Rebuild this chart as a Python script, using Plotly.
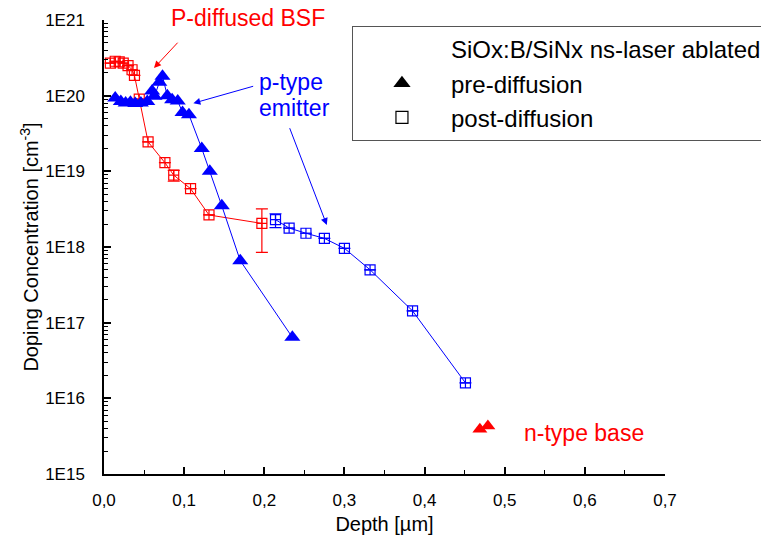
import plotly.graph_objects as go

# ---------------- data ----------------
# pre-diffusion (blue triangles, p-type emitter)
pre_depth = [0.014, 0.021, 0.027, 0.033, 0.039, 0.046, 0.054, 0.060, 0.063, 0.069, 0.073, 0.079,
             0.085, 0.092, 0.098, 0.106, 0.122, 0.132, 0.147, 0.170, 0.235]
pre_conc = [9.3e19, 8.4e19, 8.0e19, 8.2e19, 7.9e19, 8.0e19, 8.4e19, 1.15e20, 9.8e19, 1.5e20, 1.8e20, 1.0e20,
            8.8e19, 8.5e19, 6.0e19, 5.6e19, 2.0e19, 1.0e19, 3.5e18, 6.6e17, 6.4e16]

# n-type base (red triangles)
base_depth = [0.469, 0.479]
base_conc = [3.9e15, 4.3e15]

# post-diffusion, P-diffused BSF (red squares)
bsf_depth = [0.008, 0.014, 0.019, 0.024, 0.030, 0.035, 0.038, 0.044, 0.055, 0.076, 0.087, 0.108, 0.131, 0.197]
bsf_conc = [2.7e20, 2.85e20, 2.8e20, 2.7e20, 2.5e20, 2.2e20, 1.85e20, 9.0e19, 2.45e19, 1.3e19, 8.9e18,
            5.9e18, 2.65e18, 2.05e18]
bsf_err_plus = [0, 0, 0, 0, 0, 0, 0, 0, 0, 0, 1.4e18, 0, 0, 1.15e18]
bsf_err_minus = [0, 0, 0, 0, 0, 0, 0, 0, 0, 0, 1.5e18, 0, 0, 1.2e18]

# post-diffusion, p-type emitter (blue squares)
emi_depth = [0.214, 0.231, 0.252, 0.275, 0.300, 0.332, 0.385, 0.451]
emi_conc = [2.3e18, 1.78e18, 1.52e18, 1.30e18, 9.6e17, 5.0e17, 1.43e17, 1.6e16]
emi_err_plus = [0.45e18, 0, 0, 0, 0, 0, 0, 0]
emi_err_minus = [0.5e18, 0, 0, 0, 0, 0, 0, 0]

x_ticks = [0.0, 0.1, 0.2, 0.3, 0.4, 0.5, 0.6, 0.7]
x_ticklabels = ["0,0", "0,1", "0,2", "0,3", "0,4", "0,5", "0,6", "0,7"]
y_ticks = [1e15, 1e16, 1e17, 1e18, 1e19, 1e20, 1e21]
y_ticklabels = ["1E15", "1E16", "1E17", "1E18", "1E19", "1E20", "1E21"]

legend_title = "SiOx:B/SiNx ns-laser ablated"
legend_names = ["pre-diffusion", "post-diffusion"]

RED = "#ff0000"
BLUE = "#0000ff"
FONT = "Liberation Sans, Arial, sans-serif"

fig = go.Figure()

# red BSF squares
fig.add_trace(go.Scatter(
    x=bsf_depth, y=bsf_conc, mode="lines+markers",
    line=dict(color=RED, width=1),
    marker=dict(symbol="square-cross-open", size=10, color=RED, line=dict(width=1.2, color=RED)),
    error_y=dict(type="data", symmetric=False, array=bsf_err_plus, arrayminus=bsf_err_minus,
                 color=RED, thickness=1.2, width=6),
    showlegend=False))

# blue emitter squares
fig.add_trace(go.Scatter(
    x=emi_depth, y=emi_conc, mode="lines+markers",
    line=dict(color=BLUE, width=1),
    marker=dict(symbol="square-cross-open", size=10, color=BLUE, line=dict(width=1.2, color=BLUE)),
    error_y=dict(type="data", symmetric=False, array=emi_err_plus, arrayminus=emi_err_minus,
                 color=BLUE, thickness=1.2, width=6),
    showlegend=False))

# blue pre-diffusion triangles
fig.add_trace(go.Scatter(
    x=pre_depth, y=pre_conc, mode="lines+markers",
    line=dict(color=BLUE, width=1),
    marker=dict(symbol="triangle-up", size=14, color=BLUE),
    showlegend=False))

# red base triangles
fig.add_trace(go.Scatter(
    x=base_depth, y=base_conc, mode="markers",
    marker=dict(symbol="triangle-up", size=13, color=RED),
    showlegend=False))

# legend entries
fig.add_trace(go.Scatter(x=[None], y=[None], mode="markers", name=legend_title,
                         marker=dict(size=1, color="rgba(0,0,0,0)")))
fig.add_trace(go.Scatter(x=[None], y=[None], mode="markers", name=legend_names[0],
                         marker=dict(symbol="triangle-up", size=15, color="black")))
fig.add_trace(go.Scatter(x=[None], y=[None], mode="markers", name=legend_names[1],
                         marker=dict(symbol="square-open", size=12, color="black",
                                     line=dict(width=1.2, color="black"))))

fig.update_layout(
    width=761, height=551,
    margin=dict(l=104, r=96, t=20, b=77, autoexpand=False),
    paper_bgcolor="white", plot_bgcolor="white",
    font=dict(family=FONT, size=17, color="black"),
    legend=dict(x=0.442, y=0.987, xanchor="left", yanchor="top",
                bordercolor="#555555", borderwidth=1, bgcolor="white",
                font=dict(size=24, color="black"), itemwidth=88,
                tracegroupgap=0),
    xaxis=dict(range=[0, 0.7], tickvals=x_ticks, ticktext=x_ticklabels,
               showline=True, linecolor="black", linewidth=1.5, mirror=False,
               ticks="inside", ticklen=7, tickwidth=1.5, tickcolor="black",
               ticklabelstandoff=10,
               minor=dict(ticks="inside", ticklen=4, dtick=0.05, tickcolor="black", tickwidth=1.2),
               showgrid=False, zeroline=False,
               title=dict(text="Depth [µm]", font=dict(size=20), standoff=8)),
    yaxis=dict(type="log", range=[15, 21], tickvals=y_ticks, ticktext=y_ticklabels,
               showline=True, linecolor="black", linewidth=1.5, mirror=False,
               ticks="inside", ticklen=7, tickwidth=1.5, tickcolor="black",
               ticklabelstandoff=14,
               minor=dict(ticks="inside", ticklen=4, dtick="D1", tickcolor="black", tickwidth=1),
               showgrid=False, zeroline=False,
               title=dict(text="Doping Concentration [cm<sup>-3</sup>]", font=dict(size=20), standoff=1)),
)

arrow = dict(text="", showarrow=True, arrowhead=2, arrowsize=1.4, arrowwidth=1,
             xref="x", yref="y", axref="x", ayref="y")
# P-diffused BSF arrow
fig.add_annotation(x=0.0624, y=20.365, ax=0.0936, ay=20.72, arrowcolor=RED, **arrow)
# p-type emitter arrows
fig.add_annotation(x=0.1115, y=19.90, ax=0.188, ay=20.13, arrowcolor=BLUE, **arrow)
fig.add_annotation(x=0.278, y=18.29, ax=0.231, ay=19.59, arrowcolor=BLUE, **arrow)

# labels
fig.add_annotation(x=0.257, y=1.004, xref="paper", yref="paper", xanchor="center", yanchor="middle",
                   text="P-diffused BSF", showarrow=False, font=dict(size=23, color=RED))
fig.add_annotation(x=0.191, y=20.18, xref="x", yref="y", xanchor="left", yanchor="middle",
                   text="p-type", showarrow=False, font=dict(size=23, color=BLUE))
fig.add_annotation(x=0.191, y=19.84, xref="x", yref="y", xanchor="left", yanchor="middle",
                   text="emitter", showarrow=False, font=dict(size=23, color=BLUE))
fig.add_annotation(x=0.5216, y=15.54, xref="x", yref="y", xanchor="left", yanchor="middle",
                   text="n-type base", showarrow=False, font=dict(size=23, color=RED))

fig.write_html("out.html")
